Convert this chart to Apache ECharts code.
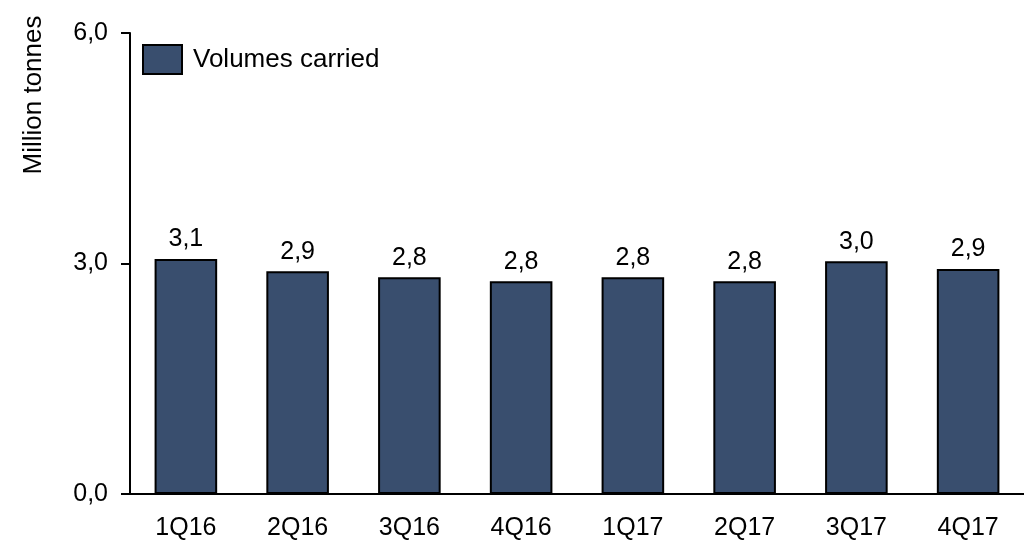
<!DOCTYPE html>
<html>
<head>
<meta charset="utf-8">
<script src="https://cdn.jsdelivr.net/npm/echarts@6/dist/echarts.min.js"></script>
<style>
  html, body { margin: 0; padding: 0; background: #ffffff; }
  #chart { width: 1024px; height: 541px; }
</style>
</head>
<body>
<div id="chart"></div>
<script>
// Quarterly volumes carried, million tonnes
const quarters = ['1Q16', '2Q16', '3Q16', '4Q16', '1Q17', '2Q17', '3Q17', '4Q17'];
const volumesCarried = [3.06, 2.90, 2.82, 2.77, 2.82, 2.77, 3.03, 2.93];
const yTicks = [0, 3, 6];
const seriesName = 'Volumes carried';
const yAxisTitle = 'Million tonnes';

const FONT = '"Liberation Sans", Arial, sans-serif';
const decimalComma = v => v.toFixed(1).replace('.', ',');

const chart = echarts.init(document.getElementById('chart'), null, { renderer: 'canvas' });

chart.setOption({
  backgroundColor: '#ffffff',
  animation: false,
  textStyle: { fontFamily: FONT },
  grid: { left: 130, width: 904, top: 33, bottom: 47, containLabel: false },
  legend: {
    left: 142,
    top: 44,
    padding: 0,
    itemWidth: 39,
    itemHeight: 29,
    icon: 'rect',
    data: [seriesName],
    textStyle: { fontFamily: FONT, fontSize: 26, color: '#000000', padding: [6, 0, 0, 6] }
  },
  xAxis: {
    type: 'category',
    data: quarters,
    axisLine: { show: true, lineStyle: { color: '#000000', width: 2 } },
    axisTick: { show: false },
    axisLabel: { fontFamily: FONT, fontSize: 25, color: '#000000', margin: 22 },
    splitLine: { show: false }
  },
  yAxis: {
    type: 'value',
    min: yTicks[0],
    max: yTicks[yTicks.length - 1],
    interval: yTicks[1] - yTicks[0],
    axisLine: { show: true, lineStyle: { color: '#000000', width: 2 } },
    axisTick: { show: true, length: 9, inside: false, lineStyle: { color: '#000000', width: 2 } },
    axisLabel: {
      fontFamily: FONT, fontSize: 25, color: '#000000', margin: 22,
      formatter: v => decimalComma(v)
    },
    splitLine: { show: false }
  },
  graphic: [{
    type: 'text',
    x: 34,
    y: 95,
    rotation: Math.PI / 2,
    style: {
      text: yAxisTitle,
      fontFamily: FONT,
      fontSize: 26,
      fill: '#000000',
      textAlign: 'center',
      textVerticalAlign: 'middle'
    }
  }],
  series: [{
    name: seriesName,
    type: 'bar',
    data: volumesCarried,
    barCategoryGap: '44%',
    itemStyle: { color: '#394E6E', borderColor: '#000000', borderWidth: 2 },
    label: {
      show: true,
      position: 'top',
      distance: 7,
      fontFamily: FONT,
      fontSize: 25,
      color: '#000000',
      formatter: p => decimalComma(p.value)
    }
  }]
});
</script>
</body>
</html>
